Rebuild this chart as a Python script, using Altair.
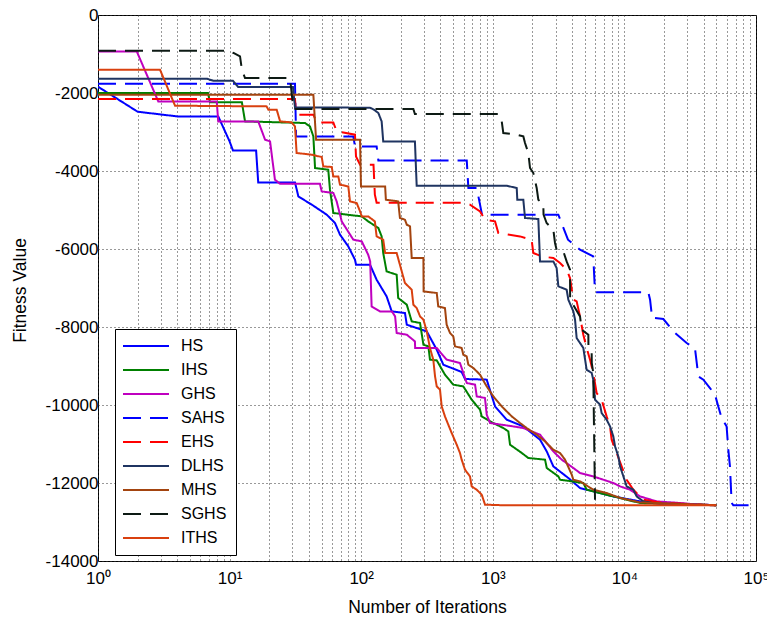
import altair as alt
import pandas as pd

algos = ["HS", "IHS", "GHS", "SAHS", "EHS", "DLHS", "MHS", "SGHS", "ITHS"]
colors = ["#0000FF", "#008000", "#BF00BF", "#0000FF", "#FF0000", "#1F3461", "#A3440F", "#0D1A14", "#D9400F"]
dashes = [[1, 0], [1, 0], [1, 0], [18, 9], [18, 9], [1, 0], [1, 0], [18, 9], [1, 0]]

hs_iter = [1, 2, 4, 8.2, 10, 10.6, 15.9, 16.5, 31.4, 33.3, 43.3, 54.7, 63.2, 69, 79.8, 89.7, 91.4, 116.7, 131, 156,
           170.6, 215, 222, 315, 375, 421, 580, 615, 899, 1040, 1276, 1706, 2285, 2570, 2884, 3750, 4600, 5800, 8240,
           13150, 26300, 50000]
hs_fit = [-1838, -2480, -2600, -2600, -3241, -3472, -3472, -4292, -4292, -4651, -4890, -5120, -5333, -5633, -5933,
          -6274, -6403, -6403, -6787, -7215, -7600, -7641, -7941, -8113, -8582, -8967, -9154, -9333, -9350, -10036,
          -10377, -10549, -10890, -11190, -11574, -11872, -12128, -12215, -12344, -12472, -12530, -12569]

ihs_iter = [1, 6.85, 7.1, 12.4, 13.1, 37.4, 40.8, 43.3, 44.6, 56.2, 57.9, 61.4, 101, 113, 135, 143, 147, 156, 186, 191,
            222, 242, 280, 297, 324, 333, 375, 433, 501, 597, 691, 800, 824, 1007, 1202, 1312, 1352, 1660, 1862, 2495,
            2570, 3148, 3243, 4875, 5164, 8240, 13150, 50000]
ihs_fit = [-2000, -2000, -2240, -2240, -2728, -2770, -2856, -3113, -3923, -3967, -4479, -5077, -5164, -5292, -5461,
           -5677, -6102, -6574, -6659, -7256, -7428, -7856, -7897, -8454, -8497, -8838, -8856, -9223, -9479, -9523,
           -9864, -10120, -10292, -10462, -10590, -10677, -11018, -11230, -11359, -11402, -11615, -11830, -11915,
           -12000, -12172, -12344, -12513, -12569]

ghs_iter = [1, 1.97, 2.87, 7.98, 8.2, 16.5, 18.6, 20.3, 22.1, 24.2, 48.6, 50.1, 61.4, 65.1, 71.1, 87.1, 101, 113, 117,
            120, 139, 171, 181, 186, 222, 256, 257, 375, 446, 563, 634, 733, 755, 872, 899, 953, 1432, 1706, 2285,
            2884, 3342, 4093, 4600, 5800, 8240, 9270, 11040, 13150, 17600, 26400, 41100]
ghs_fit = [-933, -933, -2215, -2215, -2728, -2728, -3197, -3241, -4223, -4330, -4330, -4523, -4564, -4779, -5292,
           -5761, -5805, -6146, -6318, -7472, -7600, -7600, -7728, -8154, -8197, -8369, -8539, -8539, -8838, -8923,
           -9436, -9479, -9779, -9820, -10248, -10462, -10549, -10590, -10761, -11190, -11402, -11615, -11743, -11830,
           -12000, -12087, -12172, -12344, -12472, -12513, -12569]

sahs_iter = [1, 31.4, 32, 87.1, 89.7, 131, 135, 634, 652, 755, 828, 3148, 3727, 4600, 5800, 5980, 15200, 15670, 16230,
             19770, 23560, 29730, 34360, 36480, 39800, 44700, 48800, 51700, 54800, 59800, 61600, 63400, 65300, 67200,
             100000]
sahs_fit = [-1762, -1762, -3113, -3113, -3369, -3369, -3728, -3728, -4436, -4436, -5120, -5120, -5761, -6018, -6190,
            -7108, -7108, -7300, -7762, -7795, -8113, -8410, -8539, -9266, -9351, -9566, -9736, -10036, -10333, -10549,
            -11146, -11574, -12513, -12569, -12569]

ehs_iter = [1, 31.4, 32, 43.3, 45.9, 61.4, 65.1, 89.7, 91.3, 98, 124, 127, 131, 580, 671, 800, 873, 1040, 1102, 1610,
            1972, 2031, 2350, 2884, 3243, 3645, 3862, 4093, 4337, 4600, 4875, 5164, 5483, 5800, 6152, 6714, 7328, 7780,
            8000, 8730, 9530, 10400, 11700, 13930, 19770, 50000]
ehs_fit = [-2154, -2154, -2556, -2556, -2754, -2754, -2985, -3069, -3626, -3838, -3838, -4608, -4813, -4813, -4864,
           -5036, -5249, -5292, -5590, -5677, -5761, -6102, -6190, -6231, -6359, -6531, -6744, -7300, -7343, -7728,
           -8197, -8539, -8838, -9179, -9692, -9864, -10292, -10549, -10890, -11231, -11574, -11915, -12172, -12428,
           -12513, -12569]

dlhs_iter = [1, 6.7, 7.5, 10.6, 11.6, 30.3, 31.4, 116.7, 125, 135, 143, 147, 256, 264, 1276, 1520, 1535, 1706, 1757,
             2218, 2285, 2884, 3055, 3148, 3640, 3750, 4093, 4217, 4337, 4875, 5164, 5640, 5800, 5980, 6530, 6714,
             7328, 7780, 8240, 8490, 8995, 9270, 9820, 10400, 11700, 12400, 13930, 19770, 50000]
dlhs_fit = [-1633, -1633, -1685, -1685, -1846, -1846, -2370, -2377, -2428, -2513, -2728, -3241, -3241, -4377, -4377,
            -4436, -4736, -4736, -5205, -5231, -6318, -6318, -6487, -6959, -7043, -7300, -7600, -7813, -8282, -8538,
            -9095, -9179, -9351, -9864, -9992, -10205, -10377, -10549, -10805, -11061, -11318, -11574, -11830, -12087,
            -12172, -12344, -12472, -12556, -12569]

mhs_iter = [1, 43.3, 45.4, 98, 99.6, 152, 154, 191, 197, 215, 222, 235, 242, 297, 298, 375, 385, 433, 446, 473, 501,
            516, 580, 597, 633, 652, 711, 800, 899, 1009, 1169, 1393, 1610, 1808, 2155, 2495, 2884, 3243, 3540, 3980,
            4093, 4600, 5800, 7328, 9270, 13150, 50000]
mhs_fit = [-2044, -2044, -3197, -3197, -4395, -4395, -4736, -4779, -5205, -5249, -5377, -5420, -6231, -6231, -7087,
           -7128, -7472, -7513, -7941, -8154, -8241, -8497, -8539, -8710, -8753, -8967, -9051, -9223, -9523, -9779,
           -10036, -10292, -10462, -10590, -10761, -10933, -11146, -11231, -11402, -11787, -11915, -11958, -12172,
           -12256, -12384, -12497, -12569]

sghs_iter = [1, 9.8, 10.7, 12, 12.4, 13.1, 28.8, 30.5, 249, 256, 1102, 1169, 1202, 1520, 1706, 1757, 1862, 1918, 2031,
             2155, 2218, 2420, 2430, 2564, 2884, 2970, 3055, 3436, 3640, 3862, 3870, 4600, 4732, 5321, 5330, 5640,
             5650, 5800, 5980]
sghs_fit = [-915, -915, -974, -1061, -1402, -1615, -1615, -2410, -2410, -2539, -2539, -2728, -3026, -3069, -3113,
            -3282, -3538, -3923, -4051, -4436, -4736, -4864, -5120, -5333, -5505, -5846, -6018, -6061, -6318, -6531,
            -7300, -7728, -8069, -8197, -8497, -8667, -8923, -9179, -12428]

iths_iter = [1, 2.96, 3.85, 19.1, 19.7, 22.8, 24.2, 29.6, 31.4, 32.3, 42, 50.1, 51.5, 59.7, 61.4, 67, 69, 79.8, 82.2,
             92.4, 98, 101, 113, 127, 131, 147, 152, 186, 215, 242, 249, 264, 280, 297, 315, 333, 353, 364, 375, 397,
             409, 433, 459, 487, 532, 563, 580, 615, 671, 691, 755, 824, 873, 1169, 50000]
iths_fit = [-1402, -1402, -2326, -2343, -2428, -2428, -2728, -2754, -2856, -3538, -3582, -3641, -3882, -3897, -4138,
            -4138, -4351, -4395, -4779, -4820, -5036, -5164, -5164, -5292, -5677, -5761, -6102, -6102, -6872, -7043,
            -7428, -7513, -7728, -7813, -8113, -8539, -8838, -9266, -9523, -9607, -10036, -10292, -10505, -10718,
            -11018, -11231, -11402, -11659, -11830, -12087, -12172, -12300, -12556, -12569, -12569]

series = [
    ("HS", hs_iter, hs_fit), ("IHS", ihs_iter, ihs_fit), ("GHS", ghs_iter, ghs_fit),
    ("SAHS", sahs_iter, sahs_fit), ("EHS", ehs_iter, ehs_fit), ("DLHS", dlhs_iter, dlhs_fit),
    ("MHS", mhs_iter, mhs_fit), ("SGHS", sghs_iter, sghs_fit), ("ITHS", iths_iter, iths_fit),
]

rows = []
for name, its, fits in series:
    assert len(its) == len(fits), name
    for k, (i, f) in enumerate(zip(its, fits)):
        rows.append({"algo": name, "iter": i, "fit": f, "k": k})
df = pd.DataFrame(rows)

x_grid_values = [m * 10 ** e for e in range(5) for m in range(1, 10)] + [100000]
y_values = list(range(-14000, 1, 2000))
x_label_expr = ("datum.value == 1 ? '10\u2070' : datum.value == 10 ? '10\u00b9' : "
                "datum.value == 100 ? '10\u00b2' : datum.value == 1000 ? '10\u00b3' : "
                "datum.value == 10000 ? '10\u2074' : datum.value == 100000 ? '10\u2075' : ''")

FONT = "Liberation Sans"

legend = alt.Legend(
    title=None, orient="none", legendX=17, legendY=314,
    symbolType="M-4.6,0H4.6", symbolSize=100, symbolStrokeWidth=2,
    symbolOffset=14, labelOffset=27,
    labelFont=FONT, labelFontSize=16, labelColor="#000",
    strokeColor="#000", fillColor="#fff", padding=9, rowPadding=8,
)

chart = alt.Chart(df).mark_line(strokeWidth=2, clip=True).encode(
    x=alt.X("iter:Q",
            scale=alt.Scale(type="log", domain=[1, 100000], nice=False),
            axis=alt.Axis(values=x_grid_values, labelExpr=x_label_expr, title="Number of Iterations",
                          labelFlush=False, labelOverlap=False, labelPadding=9,
                          titleY=51, titleBaseline="alphabetic")),
    y=alt.Y("fit:Q",
            scale=alt.Scale(domain=[-14000, 0], nice=False, zero=False),
            axis=alt.Axis(values=y_values, labelExpr="'' + datum.value", title="Fitness Value",
                          labelPadding=0, titleX=-78, titleY=275, titleBaseline="middle")),
    color=alt.Color("algo:N", scale=alt.Scale(domain=algos, range=colors), legend=legend),
    strokeDash=alt.StrokeDash("algo:N", scale=alt.Scale(domain=algos, range=dashes), legend=legend),
    order=alt.Order("k:Q"),
).properties(
    width=658, height=546,
    autosize=alt.AutoSizeParams(type="none"),
    padding={"left": 98, "top": 15, "right": 11, "bottom": 61},
    background="#ffffff",
).configure_view(
    stroke="#000", strokeWidth=1,
).configure_axis(
    grid=True, gridDash=[1, 3], gridColor="#333", gridOpacity=1, gridWidth=1,
    ticks=False, domain=False,
    labelFont=FONT, labelFontSize=17, labelColor="#000",
    titleFont=FONT, titleFontSize=17.5, titleFontWeight="normal", titleColor="#000",
)

chart.save("out.html", embed_options={"renderer": "svg", "actions": False})
